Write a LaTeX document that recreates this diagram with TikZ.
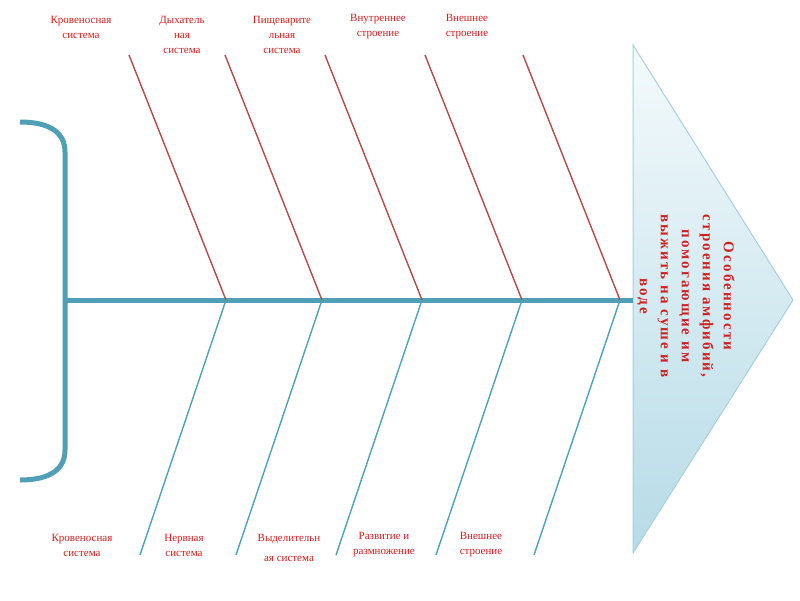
\documentclass[tikz,border=0pt]{standalone}
\usepackage{fontspec}
\setmainfont{Liberation Serif}
\newfontfamily\spaced[LetterSpace=14]{Liberation Serif}
\usepackage{tikz}

\definecolor{spine}{HTML}{4FA0B6}
\definecolor{redline}{HTML}{B24C4C}
\definecolor{blueline}{HTML}{4FA3B8}
\definecolor{labelred}{HTML}{D11F1F}
\definecolor{headtop}{HTML}{F4FAFC}
\definecolor{headbot}{HTML}{B6DBE7}
\definecolor{headline}{HTML}{A9CFDA}

\begin{document}
\begin{tikzpicture}
[x=1pt,y=-1pt,
lbl/.style={text=labelred,font=\fontsize{11}{15}\selectfont,align=center,inner sep=0pt},
bone/.style={draw=spine,line width=5pt},
up/.style={draw=redline,line width=1.4pt},
down/.style={draw=blueline,line width=1.4pt}]
\fill[white] (0,0) rectangle (800,600);
\useasboundingbox (0,0) rectangle (800,600);

\coordinate (h1) at (633,45);
\coordinate (h2) at (793,300);
\coordinate (h3) at (633,553);
\shade[top color=headtop,bottom color=headbot,draw=headline,line width=1pt] (h1) -- (h2) -- (h3) -- cycle;
\node[text=labelred,font=\spaced\bfseries\fontsize{15}{21}\selectfont,align=center,rotate=-90] (v0) at (686,296) {Особенности\\строения амфибий,\\помогающие им\\выжить на суше и в\\воде};

\draw[bone] (20,122) .. controls (52,122) and (65,134) .. (65,152) -- (65,450) .. controls (65,468) and (52,480) .. (20,480);
\coordinate (v1) at (63,300);
\coordinate (v2) at (633,300);
\draw[bone] (v1) -- (v2);

\coordinate (v3) at (226,300);
\coordinate (v4) at (322,300);
\coordinate (v5) at (422,300);
\coordinate (v6) at (522,300);
\coordinate (v7) at (620,300);

\coordinate (v8) at (129,55);
\coordinate (v9) at (225,55);
\coordinate (v10) at (325,55);
\coordinate (v11) at (425,55);
\coordinate (v12) at (523,55);

\coordinate (v13) at (140,555);
\coordinate (v14) at (236,555);
\coordinate (v15) at (336,555);
\coordinate (v16) at (436,555);
\coordinate (v17) at (534,555);

\foreach \from/\to in {v8/v3,v9/v4,v10/v5,v11/v6,v12/v7}
\draw[up] (\from) -- (\to);
\foreach \from/\to in {v3/v13,v4/v14,v5/v15,v6/v16,v7/v17}
\draw[down] (\from) -- (\to);

\node[lbl] (v18) at (81,27) {Кровеносная\\система};
\node[lbl] (v19) at (182,35) {Дыхатель\\ная\\система};
\node[lbl] (v20) at (282,35) {Пищеварите\\льная\\система};
\node[lbl] (v21) at (378,27) {Внутреннее\\строение};
\node[lbl] (v22) at (467,27) {Внешнее\\строение};

\node[lbl] (v23) at (82,545) {Кровеносная\\система};
\node[lbl] (v24) at (184,545) {Нервная\\система};
\node[lbl,font=\fontsize{11}{20}\selectfont] (v25) at (289,548) {Выделительн\\ая система};
\node[lbl] (v26) at (384,545) {Развитие и\\размножение};
\node[lbl] (v27) at (481,545) {Внешнее\\строение};
\end{tikzpicture}
\end{document}
